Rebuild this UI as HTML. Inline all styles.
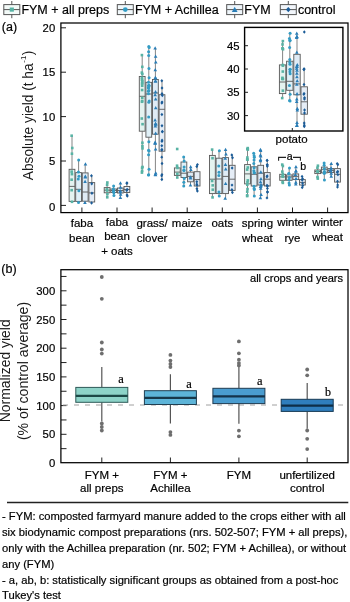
<!DOCTYPE html><html><head><meta charset="utf-8"><style>html,body{margin:0;padding:0;background:#fff;width:350px;height:602px;overflow:hidden}#wrap{position:absolute;left:0;top:0;width:350px;height:602px;will-change:transform}svg{position:absolute;left:0;top:0}</style></head><body><div id="wrap">
<svg width="350" height="602" viewBox="0 0 350 602">
<line x1="11.80" y1="1" x2="11.80" y2="18.2" stroke="#555" stroke-width="1"/>
<rect x="3.80" y="4.6" width="16.00" height="10" fill="#f3faf8" stroke="#555" stroke-width="1"/>
<line x1="3.80" y1="9.6" x2="19.80" y2="9.6" stroke="#555" stroke-width="1"/>
<rect x="9.72" y="7.52" width="4.16" height="4.16" fill="#58b3a4"/>
<text x="21.400000000000002" y="14.2" font-family='"Liberation Sans", sans-serif' font-size="12.5" text-anchor="start" fill="#000" stroke="#000" stroke-width="0.2" >FYM + all preps</text>
<line x1="125.30" y1="1" x2="125.30" y2="18.2" stroke="#555" stroke-width="1"/>
<rect x="117.30" y="4.6" width="16.00" height="10" fill="#f1f8fb" stroke="#555" stroke-width="1"/>
<line x1="117.30" y1="9.6" x2="133.30" y2="9.6" stroke="#555" stroke-width="1"/>
<circle cx="125.30" cy="9.60" r="2.40" fill="#339cc4"/>
<text x="134.9" y="14.2" font-family='"Liberation Sans", sans-serif' font-size="12.5" text-anchor="start" fill="#000" stroke="#000" stroke-width="0.2" >FYM + Achillea</text>
<line x1="234.70" y1="1" x2="234.70" y2="18.2" stroke="#555" stroke-width="1"/>
<rect x="226.70" y="4.6" width="16.00" height="10" fill="#eff6fb" stroke="#555" stroke-width="1"/>
<line x1="226.70" y1="9.6" x2="242.70" y2="9.6" stroke="#555" stroke-width="1"/>
<path d="M234.70 6.72 L237.58 11.90 L231.82 11.90Z" fill="#2a7db6"/>
<text x="244.29999999999998" y="14.2" font-family='"Liberation Sans", sans-serif' font-size="12.5" text-anchor="start" fill="#000" stroke="#000" stroke-width="0.2" >FYM</text>
<line x1="288.30" y1="1" x2="288.30" y2="18.2" stroke="#555" stroke-width="1"/>
<rect x="280.30" y="4.6" width="16.00" height="10" fill="#f2f6fb" stroke="#555" stroke-width="1"/>
<line x1="280.30" y1="9.6" x2="296.30" y2="9.6" stroke="#555" stroke-width="1"/>
<path d="M288.30 6.88 L290.61 9.60 L288.30 12.32 L285.99 9.60Z" fill="#1b5c98"/>
<text x="297.90000000000003" y="14.2" font-family='"Liberation Sans", sans-serif' font-size="12.5" text-anchor="start" fill="#000" stroke="#000" stroke-width="0.2" >control</text>
<text x="1.8" y="30.6" font-family='"Liberation Sans", sans-serif' font-size="12.5" text-anchor="start" fill="#000" stroke="#000" stroke-width="0.2" >(a)</text>
<line x1="61" y1="205.40" x2="66" y2="205.40" stroke="#222" stroke-width="1"/>
<text x="55.2" y="210.9" font-family='"Liberation Sans", sans-serif' font-size="11.3" text-anchor="end" fill="#000" stroke="#000" stroke-width="0.2" >0</text>
<line x1="61" y1="161.00" x2="66" y2="161.00" stroke="#222" stroke-width="1"/>
<text x="55.2" y="165.0" font-family='"Liberation Sans", sans-serif' font-size="11.3" text-anchor="end" fill="#000" stroke="#000" stroke-width="0.2" >5</text>
<line x1="61" y1="116.60" x2="66" y2="116.60" stroke="#222" stroke-width="1"/>
<text x="55.2" y="120.6" font-family='"Liberation Sans", sans-serif' font-size="11.3" text-anchor="end" fill="#000" stroke="#000" stroke-width="0.2" >10</text>
<line x1="61" y1="72.20" x2="66" y2="72.20" stroke="#222" stroke-width="1"/>
<text x="55.2" y="76.19999999999999" font-family='"Liberation Sans", sans-serif' font-size="11.3" text-anchor="end" fill="#000" stroke="#000" stroke-width="0.2" >15</text>
<line x1="61" y1="27.80" x2="66" y2="27.80" stroke="#222" stroke-width="1"/>
<text x="55.2" y="31.799999999999983" font-family='"Liberation Sans", sans-serif' font-size="11.3" text-anchor="end" fill="#000" stroke="#000" stroke-width="0.2" >20</text>
<line x1="81.90" y1="207.5" x2="81.90" y2="212" stroke="#222" stroke-width="1"/>
<line x1="117.00" y1="207.5" x2="117.00" y2="212" stroke="#222" stroke-width="1"/>
<line x1="152.10" y1="207.5" x2="152.10" y2="212" stroke="#222" stroke-width="1"/>
<line x1="187.20" y1="207.5" x2="187.20" y2="212" stroke="#222" stroke-width="1"/>
<line x1="222.30" y1="207.5" x2="222.30" y2="212" stroke="#222" stroke-width="1"/>
<line x1="257.40" y1="207.5" x2="257.40" y2="212" stroke="#222" stroke-width="1"/>
<line x1="292.50" y1="207.5" x2="292.50" y2="212" stroke="#222" stroke-width="1"/>
<line x1="327.60" y1="207.5" x2="327.60" y2="212" stroke="#222" stroke-width="1"/>
<line x1="72.00" y1="135.70" x2="72.00" y2="169.30" stroke="#858585" stroke-width="1"/>
<line x1="72.00" y1="201.40" x2="72.00" y2="201.80" stroke="#858585" stroke-width="1"/>
<rect x="69.10" y="169.30" width="5.80" height="32.10" fill="#e4f3f0" stroke="#585858" stroke-width="0.9"/>
<line x1="69.10" y1="186.40" x2="74.90" y2="186.40" stroke="#585858" stroke-width="0.9"/>
<line x1="78.60" y1="160.00" x2="78.60" y2="172.60" stroke="#858585" stroke-width="1"/>
<line x1="78.60" y1="201.40" x2="78.60" y2="202.50" stroke="#858585" stroke-width="1"/>
<rect x="75.70" y="172.60" width="5.80" height="28.80" fill="#e0f0f7" stroke="#585858" stroke-width="0.9"/>
<line x1="75.70" y1="189.30" x2="81.50" y2="189.30" stroke="#585858" stroke-width="0.9"/>
<line x1="85.20" y1="164.00" x2="85.20" y2="172.90" stroke="#858585" stroke-width="1"/>
<line x1="85.20" y1="201.20" x2="85.20" y2="202.50" stroke="#858585" stroke-width="1"/>
<rect x="82.30" y="172.90" width="5.80" height="28.30" fill="#dfebf5" stroke="#585858" stroke-width="0.9"/>
<line x1="82.30" y1="192.00" x2="88.10" y2="192.00" stroke="#585858" stroke-width="0.9"/>
<line x1="91.80" y1="175.70" x2="91.80" y2="182.60" stroke="#858585" stroke-width="1"/>
<line x1="91.80" y1="202.00" x2="91.80" y2="203.00" stroke="#858585" stroke-width="1"/>
<rect x="88.90" y="182.60" width="5.80" height="19.40" fill="#e5edf6" stroke="#585858" stroke-width="0.9"/>
<line x1="88.90" y1="192.90" x2="94.70" y2="192.90" stroke="#585858" stroke-width="0.9"/>
<rect x="70.35" y="134.40" width="2.60" height="2.60" fill="#58b3a4"/>
<rect x="70.71" y="200.50" width="2.60" height="2.60" fill="#58b3a4"/>
<rect x="70.33" y="178.40" width="2.60" height="2.60" fill="#58b3a4"/>
<rect x="70.65" y="172.84" width="2.60" height="2.60" fill="#58b3a4"/>
<rect x="70.36" y="188.89" width="2.60" height="2.60" fill="#58b3a4"/>
<rect x="70.37" y="170.33" width="2.60" height="2.60" fill="#58b3a4"/>
<rect x="70.64" y="152.41" width="2.60" height="2.60" fill="#58b3a4"/>
<rect x="70.96" y="146.69" width="2.60" height="2.60" fill="#58b3a4"/>
<circle cx="78.66" cy="160.00" r="1.50" fill="#339cc4"/>
<circle cx="78.52" cy="202.50" r="1.50" fill="#339cc4"/>
<circle cx="78.98" cy="176.17" r="1.50" fill="#339cc4"/>
<circle cx="78.24" cy="179.03" r="1.50" fill="#339cc4"/>
<circle cx="78.89" cy="190.67" r="1.50" fill="#339cc4"/>
<circle cx="78.43" cy="171.94" r="1.50" fill="#339cc4"/>
<path d="M85.45 162.20 L87.25 165.44 L83.65 165.44Z" fill="#2a7db6"/>
<path d="M84.94 200.70 L86.74 203.94 L83.14 203.94Z" fill="#2a7db6"/>
<path d="M85.27 175.18 L87.07 178.42 L83.47 178.42Z" fill="#2a7db6"/>
<path d="M85.31 174.43 L87.11 177.67 L83.51 177.67Z" fill="#2a7db6"/>
<path d="M85.10 179.83 L86.90 183.07 L83.30 183.07Z" fill="#2a7db6"/>
<path d="M91.45 174.00 L92.89 175.70 L91.45 177.40 L90.00 175.70Z" fill="#1b5c98"/>
<path d="M91.56 201.30 L93.01 203.00 L91.56 204.70 L90.12 203.00Z" fill="#1b5c98"/>
<path d="M91.94 191.53 L93.39 193.23 L91.94 194.93 L90.50 193.23Z" fill="#1b5c98"/>
<path d="M91.74 182.12 L93.19 183.82 L91.74 185.52 L90.30 183.82Z" fill="#1b5c98"/>
<line x1="107.10" y1="182.50" x2="107.10" y2="187.60" stroke="#858585" stroke-width="1"/>
<line x1="107.10" y1="192.80" x2="107.10" y2="197.30" stroke="#858585" stroke-width="1"/>
<rect x="104.20" y="187.60" width="5.80" height="5.20" fill="#e4f3f0" stroke="#585858" stroke-width="0.9"/>
<line x1="104.20" y1="190.20" x2="110.00" y2="190.20" stroke="#585858" stroke-width="0.9"/>
<line x1="113.70" y1="186.00" x2="113.70" y2="189.00" stroke="#858585" stroke-width="1"/>
<line x1="113.70" y1="192.50" x2="113.70" y2="195.50" stroke="#858585" stroke-width="1"/>
<rect x="110.80" y="189.00" width="5.80" height="3.50" fill="#e0f0f7" stroke="#585858" stroke-width="0.9"/>
<line x1="110.80" y1="190.50" x2="116.60" y2="190.50" stroke="#585858" stroke-width="0.9"/>
<line x1="120.30" y1="183.00" x2="120.30" y2="188.00" stroke="#858585" stroke-width="1"/>
<line x1="120.30" y1="193.00" x2="120.30" y2="197.50" stroke="#858585" stroke-width="1"/>
<rect x="117.40" y="188.00" width="5.80" height="5.00" fill="#dfebf5" stroke="#585858" stroke-width="0.9"/>
<line x1="117.40" y1="190.50" x2="123.20" y2="190.50" stroke="#585858" stroke-width="0.9"/>
<line x1="126.90" y1="183.00" x2="126.90" y2="186.50" stroke="#858585" stroke-width="1"/>
<line x1="126.90" y1="192.50" x2="126.90" y2="196.00" stroke="#858585" stroke-width="1"/>
<rect x="124.00" y="186.50" width="5.80" height="6.00" fill="#e5edf6" stroke="#585858" stroke-width="0.9"/>
<line x1="124.00" y1="189.50" x2="129.80" y2="189.50" stroke="#585858" stroke-width="0.9"/>
<rect x="106.04" y="181.20" width="2.60" height="2.60" fill="#58b3a4"/>
<rect x="105.96" y="196.00" width="2.60" height="2.60" fill="#58b3a4"/>
<rect x="105.60" y="187.93" width="2.60" height="2.60" fill="#58b3a4"/>
<rect x="105.86" y="189.34" width="2.60" height="2.60" fill="#58b3a4"/>
<rect x="105.82" y="183.51" width="2.60" height="2.60" fill="#58b3a4"/>
<rect x="106.10" y="192.85" width="2.60" height="2.60" fill="#58b3a4"/>
<circle cx="113.63" cy="186.00" r="1.50" fill="#339cc4"/>
<circle cx="113.91" cy="195.50" r="1.50" fill="#339cc4"/>
<circle cx="113.42" cy="191.55" r="1.50" fill="#339cc4"/>
<circle cx="113.69" cy="190.01" r="1.50" fill="#339cc4"/>
<circle cx="113.33" cy="188.94" r="1.50" fill="#339cc4"/>
<circle cx="113.83" cy="192.85" r="1.50" fill="#339cc4"/>
<path d="M120.46 181.20 L122.26 184.44 L118.66 184.44Z" fill="#2a7db6"/>
<path d="M120.38 195.70 L122.18 198.94 L118.58 198.94Z" fill="#2a7db6"/>
<path d="M120.36 190.02 L122.16 193.26 L118.56 193.26Z" fill="#2a7db6"/>
<path d="M120.26 189.07 L122.06 192.31 L118.46 192.31Z" fill="#2a7db6"/>
<path d="M120.57 185.58 L122.37 188.82 L118.77 188.82Z" fill="#2a7db6"/>
<path d="M120.66 192.61 L122.46 195.85 L118.86 195.85Z" fill="#2a7db6"/>
<path d="M127.02 181.30 L128.46 183.00 L127.02 184.70 L125.57 183.00Z" fill="#1b5c98"/>
<path d="M127.29 194.30 L128.74 196.00 L127.29 197.70 L125.85 196.00Z" fill="#1b5c98"/>
<path d="M127.16 187.64 L128.60 189.34 L127.16 191.04 L125.71 189.34Z" fill="#1b5c98"/>
<path d="M126.73 188.78 L128.17 190.48 L126.73 192.18 L125.28 190.48Z" fill="#1b5c98"/>
<path d="M126.81 181.51 L128.25 183.21 L126.81 184.91 L125.36 183.21Z" fill="#1b5c98"/>
<path d="M127.03 193.26 L128.48 194.96 L127.03 196.66 L125.59 194.96Z" fill="#1b5c98"/>
<line x1="142.20" y1="55.10" x2="142.20" y2="76.50" stroke="#858585" stroke-width="1"/>
<line x1="142.20" y1="131.20" x2="142.20" y2="172.60" stroke="#858585" stroke-width="1"/>
<rect x="139.30" y="76.50" width="5.80" height="54.70" fill="#e4f3f0" stroke="#585858" stroke-width="0.9"/>
<line x1="139.30" y1="96.30" x2="145.10" y2="96.30" stroke="#585858" stroke-width="0.9"/>
<line x1="148.80" y1="46.50" x2="148.80" y2="82.30" stroke="#858585" stroke-width="1"/>
<line x1="148.80" y1="137.20" x2="148.80" y2="174.90" stroke="#858585" stroke-width="1"/>
<rect x="145.90" y="82.30" width="5.80" height="54.90" fill="#e0f0f7" stroke="#585858" stroke-width="0.9"/>
<line x1="145.90" y1="94.00" x2="151.70" y2="94.00" stroke="#585858" stroke-width="0.9"/>
<line x1="155.40" y1="48.10" x2="155.40" y2="79.50" stroke="#858585" stroke-width="1"/>
<line x1="155.40" y1="134.20" x2="155.40" y2="174.90" stroke="#858585" stroke-width="1"/>
<rect x="152.50" y="79.50" width="5.80" height="54.70" fill="#dfebf5" stroke="#585858" stroke-width="0.9"/>
<line x1="152.50" y1="93.00" x2="158.30" y2="93.00" stroke="#585858" stroke-width="0.9"/>
<line x1="162.00" y1="80.70" x2="162.00" y2="94.70" stroke="#858585" stroke-width="1"/>
<line x1="162.00" y1="151.20" x2="162.00" y2="179.50" stroke="#858585" stroke-width="1"/>
<rect x="159.10" y="94.70" width="5.80" height="56.50" fill="#e5edf6" stroke="#585858" stroke-width="0.9"/>
<line x1="159.10" y1="109.30" x2="164.90" y2="109.30" stroke="#585858" stroke-width="0.9"/>
<rect x="140.62" y="53.80" width="2.60" height="2.60" fill="#58b3a4"/>
<rect x="140.64" y="171.30" width="2.60" height="2.60" fill="#58b3a4"/>
<rect x="140.69" y="76.43" width="2.60" height="2.60" fill="#58b3a4"/>
<rect x="140.69" y="100.45" width="2.60" height="2.60" fill="#58b3a4"/>
<rect x="140.89" y="84.39" width="2.60" height="2.60" fill="#58b3a4"/>
<rect x="140.97" y="81.61" width="2.60" height="2.60" fill="#58b3a4"/>
<rect x="140.71" y="78.42" width="2.60" height="2.60" fill="#58b3a4"/>
<rect x="140.50" y="117.22" width="2.60" height="2.60" fill="#58b3a4"/>
<rect x="140.84" y="82.27" width="2.60" height="2.60" fill="#58b3a4"/>
<rect x="140.80" y="88.74" width="2.60" height="2.60" fill="#58b3a4"/>
<rect x="140.95" y="96.58" width="2.60" height="2.60" fill="#58b3a4"/>
<rect x="141.26" y="122.87" width="2.60" height="2.60" fill="#58b3a4"/>
<rect x="141.05" y="79.61" width="2.60" height="2.60" fill="#58b3a4"/>
<rect x="140.91" y="99.77" width="2.60" height="2.60" fill="#58b3a4"/>
<rect x="140.99" y="65.56" width="2.60" height="2.60" fill="#58b3a4"/>
<rect x="141.04" y="72.70" width="2.60" height="2.60" fill="#58b3a4"/>
<rect x="140.54" y="71.33" width="2.60" height="2.60" fill="#58b3a4"/>
<rect x="141.22" y="165.67" width="2.60" height="2.60" fill="#58b3a4"/>
<rect x="141.12" y="141.43" width="2.60" height="2.60" fill="#58b3a4"/>
<rect x="141.20" y="147.09" width="2.60" height="2.60" fill="#58b3a4"/>
<rect x="141.14" y="144.75" width="2.60" height="2.60" fill="#58b3a4"/>
<rect x="140.81" y="166.51" width="2.60" height="2.60" fill="#58b3a4"/>
<rect x="140.82" y="169.55" width="2.60" height="2.60" fill="#58b3a4"/>
<circle cx="148.79" cy="46.50" r="1.50" fill="#339cc4"/>
<circle cx="148.47" cy="174.90" r="1.50" fill="#339cc4"/>
<circle cx="148.48" cy="87.98" r="1.50" fill="#339cc4"/>
<circle cx="148.67" cy="117.12" r="1.50" fill="#339cc4"/>
<circle cx="148.61" cy="85.72" r="1.50" fill="#339cc4"/>
<circle cx="149.06" cy="86.00" r="1.50" fill="#339cc4"/>
<circle cx="148.53" cy="93.76" r="1.50" fill="#339cc4"/>
<circle cx="148.42" cy="91.21" r="1.50" fill="#339cc4"/>
<circle cx="149.16" cy="100.97" r="1.50" fill="#339cc4"/>
<circle cx="148.82" cy="85.19" r="1.50" fill="#339cc4"/>
<circle cx="148.52" cy="82.31" r="1.50" fill="#339cc4"/>
<circle cx="148.83" cy="90.60" r="1.50" fill="#339cc4"/>
<circle cx="148.42" cy="87.87" r="1.50" fill="#339cc4"/>
<circle cx="148.82" cy="102.26" r="1.50" fill="#339cc4"/>
<circle cx="149.18" cy="47.41" r="1.50" fill="#339cc4"/>
<circle cx="149.09" cy="77.80" r="1.50" fill="#339cc4"/>
<circle cx="148.96" cy="68.48" r="1.50" fill="#339cc4"/>
<circle cx="148.61" cy="51.82" r="1.50" fill="#339cc4"/>
<circle cx="148.69" cy="55.53" r="1.50" fill="#339cc4"/>
<circle cx="148.53" cy="150.30" r="1.50" fill="#339cc4"/>
<circle cx="149.02" cy="150.93" r="1.50" fill="#339cc4"/>
<circle cx="148.83" cy="141.83" r="1.50" fill="#339cc4"/>
<circle cx="149.02" cy="169.20" r="1.50" fill="#339cc4"/>
<circle cx="148.66" cy="174.64" r="1.50" fill="#339cc4"/>
<circle cx="148.58" cy="154.77" r="1.50" fill="#339cc4"/>
<path d="M155.16 46.30 L156.96 49.54 L153.36 49.54Z" fill="#2a7db6"/>
<path d="M155.50 173.10 L157.30 176.34 L153.70 176.34Z" fill="#2a7db6"/>
<path d="M155.72 122.09 L157.52 125.33 L153.92 125.33Z" fill="#2a7db6"/>
<path d="M155.67 131.58 L157.47 134.82 L153.87 134.82Z" fill="#2a7db6"/>
<path d="M155.38 124.34 L157.18 127.58 L153.58 127.58Z" fill="#2a7db6"/>
<path d="M155.52 121.79 L157.32 125.03 L153.72 125.03Z" fill="#2a7db6"/>
<path d="M155.64 122.46 L157.44 125.70 L153.84 125.70Z" fill="#2a7db6"/>
<path d="M155.07 118.17 L156.87 121.41 L153.27 121.41Z" fill="#2a7db6"/>
<path d="M155.53 90.10 L157.33 93.34 L153.73 93.34Z" fill="#2a7db6"/>
<path d="M155.73 106.01 L157.53 109.25 L153.93 109.25Z" fill="#2a7db6"/>
<path d="M155.63 97.15 L157.43 100.39 L153.83 100.39Z" fill="#2a7db6"/>
<path d="M155.60 79.29 L157.40 82.53 L153.80 82.53Z" fill="#2a7db6"/>
<path d="M155.38 79.23 L157.18 82.47 L153.58 82.47Z" fill="#2a7db6"/>
<path d="M155.14 92.98 L156.94 96.22 L153.34 96.22Z" fill="#2a7db6"/>
<path d="M155.63 54.44 L157.43 57.68 L153.83 57.68Z" fill="#2a7db6"/>
<path d="M155.27 68.05 L157.07 71.29 L153.47 71.29Z" fill="#2a7db6"/>
<path d="M155.64 76.33 L157.44 79.57 L153.84 79.57Z" fill="#2a7db6"/>
<path d="M155.78 60.34 L157.58 63.58 L153.98 63.58Z" fill="#2a7db6"/>
<path d="M155.32 75.72 L157.12 78.96 L153.52 78.96Z" fill="#2a7db6"/>
<path d="M155.32 172.61 L157.12 175.85 L153.52 175.85Z" fill="#2a7db6"/>
<path d="M155.76 171.27 L157.56 174.51 L153.96 174.51Z" fill="#2a7db6"/>
<path d="M155.58 147.24 L157.38 150.48 L153.78 150.48Z" fill="#2a7db6"/>
<path d="M155.14 141.37 L156.94 144.61 L153.34 144.61Z" fill="#2a7db6"/>
<path d="M155.10 141.63 L156.90 144.87 L153.30 144.87Z" fill="#2a7db6"/>
<path d="M155.12 140.41 L156.92 143.65 L153.32 143.65Z" fill="#2a7db6"/>
<path d="M161.80 79.00 L163.25 80.70 L161.80 82.40 L160.36 80.70Z" fill="#1b5c98"/>
<path d="M161.83 177.80 L163.28 179.50 L161.83 181.20 L160.39 179.50Z" fill="#1b5c98"/>
<path d="M161.79 144.12 L163.24 145.82 L161.79 147.52 L160.35 145.82Z" fill="#1b5c98"/>
<path d="M162.07 138.57 L163.51 140.27 L162.07 141.97 L160.62 140.27Z" fill="#1b5c98"/>
<path d="M161.81 101.26 L163.25 102.96 L161.81 104.66 L160.36 102.96Z" fill="#1b5c98"/>
<path d="M161.94 139.70 L163.38 141.40 L161.94 143.10 L160.49 141.40Z" fill="#1b5c98"/>
<path d="M161.70 148.39 L163.15 150.09 L161.70 151.79 L160.26 150.09Z" fill="#1b5c98"/>
<path d="M162.33 130.14 L163.77 131.84 L162.33 133.54 L160.88 131.84Z" fill="#1b5c98"/>
<path d="M161.88 112.80 L163.33 114.50 L161.88 116.20 L160.44 114.50Z" fill="#1b5c98"/>
<path d="M161.97 124.00 L163.41 125.70 L161.97 127.40 L160.52 125.70Z" fill="#1b5c98"/>
<path d="M162.07 100.40 L163.51 102.10 L162.07 103.80 L160.62 102.10Z" fill="#1b5c98"/>
<path d="M162.32 93.80 L163.77 95.50 L162.32 97.20 L160.88 95.50Z" fill="#1b5c98"/>
<path d="M161.94 147.86 L163.38 149.56 L161.94 151.26 L160.49 149.56Z" fill="#1b5c98"/>
<path d="M162.33 129.71 L163.78 131.41 L162.33 133.11 L160.89 131.41Z" fill="#1b5c98"/>
<path d="M162.00 86.37 L163.45 88.07 L162.00 89.77 L160.56 88.07Z" fill="#1b5c98"/>
<path d="M162.03 92.07 L163.47 93.77 L162.03 95.47 L160.58 93.77Z" fill="#1b5c98"/>
<path d="M162.02 161.78 L163.46 163.48 L162.02 165.18 L160.57 163.48Z" fill="#1b5c98"/>
<path d="M161.61 174.17 L163.06 175.87 L161.61 177.57 L160.17 175.87Z" fill="#1b5c98"/>
<path d="M161.95 172.88 L163.40 174.58 L161.95 176.28 L160.51 174.58Z" fill="#1b5c98"/>
<path d="M161.75 155.47 L163.19 157.17 L161.75 158.87 L160.30 157.17Z" fill="#1b5c98"/>
<line x1="177.30" y1="165.70" x2="177.30" y2="167.90" stroke="#858585" stroke-width="1"/>
<line x1="177.30" y1="175.40" x2="177.30" y2="177.50" stroke="#858585" stroke-width="1"/>
<rect x="174.40" y="167.90" width="5.80" height="7.50" fill="#e4f3f0" stroke="#585858" stroke-width="0.9"/>
<line x1="174.40" y1="172.10" x2="180.20" y2="172.10" stroke="#585858" stroke-width="0.9"/>
<line x1="183.90" y1="157.00" x2="183.90" y2="162.00" stroke="#858585" stroke-width="1"/>
<line x1="183.90" y1="177.50" x2="183.90" y2="186.00" stroke="#858585" stroke-width="1"/>
<rect x="181.00" y="162.00" width="5.80" height="15.50" fill="#e0f0f7" stroke="#585858" stroke-width="0.9"/>
<line x1="181.00" y1="173.20" x2="186.80" y2="173.20" stroke="#585858" stroke-width="0.9"/>
<line x1="190.50" y1="166.80" x2="190.50" y2="172.10" stroke="#858585" stroke-width="1"/>
<line x1="190.50" y1="181.80" x2="190.50" y2="185.00" stroke="#858585" stroke-width="1"/>
<rect x="187.60" y="172.10" width="5.80" height="9.70" fill="#dfebf5" stroke="#585858" stroke-width="0.9"/>
<line x1="187.60" y1="176.40" x2="193.40" y2="176.40" stroke="#585858" stroke-width="0.9"/>
<line x1="197.10" y1="164.60" x2="197.10" y2="171.70" stroke="#858585" stroke-width="1"/>
<line x1="197.10" y1="186.00" x2="197.10" y2="191.00" stroke="#858585" stroke-width="1"/>
<rect x="194.20" y="171.70" width="5.80" height="14.30" fill="#e5edf6" stroke="#585858" stroke-width="0.9"/>
<line x1="194.20" y1="179.60" x2="200.00" y2="179.60" stroke="#585858" stroke-width="0.9"/>
<rect x="175.74" y="164.40" width="2.60" height="2.60" fill="#58b3a4"/>
<rect x="175.98" y="176.20" width="2.60" height="2.60" fill="#58b3a4"/>
<rect x="176.18" y="166.63" width="2.60" height="2.60" fill="#58b3a4"/>
<rect x="176.05" y="172.59" width="2.60" height="2.60" fill="#58b3a4"/>
<circle cx="183.70" cy="157.00" r="1.50" fill="#339cc4"/>
<circle cx="183.72" cy="186.00" r="1.50" fill="#339cc4"/>
<circle cx="184.12" cy="167.05" r="1.50" fill="#339cc4"/>
<circle cx="183.91" cy="170.03" r="1.50" fill="#339cc4"/>
<circle cx="183.95" cy="170.61" r="1.50" fill="#339cc4"/>
<circle cx="184.11" cy="160.92" r="1.50" fill="#339cc4"/>
<circle cx="184.23" cy="178.40" r="1.50" fill="#339cc4"/>
<circle cx="183.85" cy="182.26" r="1.50" fill="#339cc4"/>
<path d="M190.65 165.00 L192.45 168.24 L188.85 168.24Z" fill="#2a7db6"/>
<path d="M190.46 183.20 L192.26 186.44 L188.66 186.44Z" fill="#2a7db6"/>
<path d="M190.53 176.24 L192.33 179.48 L188.73 179.48Z" fill="#2a7db6"/>
<path d="M190.48 175.20 L192.28 178.44 L188.68 178.44Z" fill="#2a7db6"/>
<path d="M190.85 167.71 L192.65 170.95 L189.05 170.95Z" fill="#2a7db6"/>
<path d="M197.45 162.90 L198.90 164.60 L197.45 166.30 L196.01 164.60Z" fill="#1b5c98"/>
<path d="M197.37 189.30 L198.82 191.00 L197.37 192.70 L195.93 191.00Z" fill="#1b5c98"/>
<path d="M196.81 180.00 L198.25 181.70 L196.81 183.40 L195.36 181.70Z" fill="#1b5c98"/>
<path d="M196.80 182.53 L198.24 184.23 L196.80 185.93 L195.35 184.23Z" fill="#1b5c98"/>
<path d="M197.05 183.47 L198.50 185.17 L197.05 186.87 L195.61 185.17Z" fill="#1b5c98"/>
<path d="M196.76 164.74 L198.20 166.44 L196.76 168.14 L195.31 166.44Z" fill="#1b5c98"/>
<path d="M196.89 187.10 L198.34 188.80 L196.89 190.50 L195.45 188.80Z" fill="#1b5c98"/>
<line x1="212.40" y1="149.60" x2="212.40" y2="155.40" stroke="#858585" stroke-width="1"/>
<line x1="212.40" y1="193.60" x2="212.40" y2="197.40" stroke="#858585" stroke-width="1"/>
<rect x="209.50" y="155.40" width="5.80" height="38.20" fill="#e4f3f0" stroke="#585858" stroke-width="0.9"/>
<line x1="209.50" y1="179.20" x2="215.30" y2="179.20" stroke="#585858" stroke-width="0.9"/>
<line x1="219.00" y1="150.70" x2="219.00" y2="158.20" stroke="#858585" stroke-width="1"/>
<line x1="219.00" y1="193.60" x2="219.00" y2="196.00" stroke="#858585" stroke-width="1"/>
<rect x="216.10" y="158.20" width="5.80" height="35.40" fill="#e0f0f7" stroke="#585858" stroke-width="0.9"/>
<line x1="216.10" y1="179.00" x2="221.90" y2="179.00" stroke="#585858" stroke-width="0.9"/>
<line x1="225.60" y1="149.60" x2="225.60" y2="157.60" stroke="#858585" stroke-width="1"/>
<line x1="225.60" y1="193.60" x2="225.60" y2="198.30" stroke="#858585" stroke-width="1"/>
<rect x="222.70" y="157.60" width="5.80" height="36.00" fill="#dfebf5" stroke="#585858" stroke-width="0.9"/>
<line x1="222.70" y1="176.40" x2="228.50" y2="176.40" stroke="#585858" stroke-width="0.9"/>
<line x1="232.20" y1="155.00" x2="232.20" y2="165.30" stroke="#858585" stroke-width="1"/>
<line x1="232.20" y1="190.40" x2="232.20" y2="192.50" stroke="#858585" stroke-width="1"/>
<rect x="229.30" y="165.30" width="5.80" height="25.10" fill="#e5edf6" stroke="#585858" stroke-width="0.9"/>
<line x1="229.30" y1="179.20" x2="235.10" y2="179.20" stroke="#585858" stroke-width="0.9"/>
<rect x="210.82" y="148.30" width="2.60" height="2.60" fill="#58b3a4"/>
<rect x="211.27" y="196.10" width="2.60" height="2.60" fill="#58b3a4"/>
<rect x="211.23" y="156.89" width="2.60" height="2.60" fill="#58b3a4"/>
<rect x="210.81" y="179.67" width="2.60" height="2.60" fill="#58b3a4"/>
<rect x="211.41" y="184.05" width="2.60" height="2.60" fill="#58b3a4"/>
<rect x="211.47" y="188.37" width="2.60" height="2.60" fill="#58b3a4"/>
<circle cx="219.39" cy="150.70" r="1.50" fill="#339cc4"/>
<circle cx="219.27" cy="196.00" r="1.50" fill="#339cc4"/>
<circle cx="218.73" cy="165.97" r="1.50" fill="#339cc4"/>
<circle cx="218.95" cy="191.92" r="1.50" fill="#339cc4"/>
<circle cx="219.01" cy="172.30" r="1.50" fill="#339cc4"/>
<circle cx="218.87" cy="175.45" r="1.50" fill="#339cc4"/>
<path d="M225.55 147.80 L227.35 151.04 L223.75 151.04Z" fill="#2a7db6"/>
<path d="M225.21 196.50 L227.01 199.74 L223.41 199.74Z" fill="#2a7db6"/>
<path d="M225.47 162.85 L227.27 166.09 L223.67 166.09Z" fill="#2a7db6"/>
<path d="M225.70 167.27 L227.50 170.51 L223.90 170.51Z" fill="#2a7db6"/>
<path d="M225.61 181.80 L227.41 185.04 L223.81 185.04Z" fill="#2a7db6"/>
<path d="M225.25 156.50 L227.05 159.74 L223.45 159.74Z" fill="#2a7db6"/>
<path d="M225.99 152.23 L227.79 155.47 L224.19 155.47Z" fill="#2a7db6"/>
<path d="M231.83 153.30 L233.28 155.00 L231.83 156.70 L230.39 155.00Z" fill="#1b5c98"/>
<path d="M232.42 190.80 L233.87 192.50 L232.42 194.20 L230.98 192.50Z" fill="#1b5c98"/>
<path d="M232.02 183.39 L233.46 185.09 L232.02 186.79 L230.57 185.09Z" fill="#1b5c98"/>
<path d="M231.90 187.99 L233.35 189.69 L231.90 191.39 L230.46 189.69Z" fill="#1b5c98"/>
<path d="M232.14 166.23 L233.58 167.93 L232.14 169.63 L230.69 167.93Z" fill="#1b5c98"/>
<path d="M232.53 156.04 L233.97 157.74 L232.53 159.44 L231.08 157.74Z" fill="#1b5c98"/>
<line x1="247.50" y1="148.10" x2="247.50" y2="164.60" stroke="#858585" stroke-width="1"/>
<line x1="247.50" y1="183.90" x2="247.50" y2="196.10" stroke="#858585" stroke-width="1"/>
<rect x="244.60" y="164.60" width="5.80" height="19.30" fill="#e4f3f0" stroke="#585858" stroke-width="0.9"/>
<line x1="244.60" y1="173.90" x2="250.40" y2="173.90" stroke="#585858" stroke-width="0.9"/>
<line x1="254.10" y1="153.30" x2="254.10" y2="166.80" stroke="#858585" stroke-width="1"/>
<line x1="254.10" y1="186.00" x2="254.10" y2="196.10" stroke="#858585" stroke-width="1"/>
<rect x="251.20" y="166.80" width="5.80" height="19.20" fill="#e0f0f7" stroke="#585858" stroke-width="0.9"/>
<line x1="251.20" y1="174.30" x2="257.00" y2="174.30" stroke="#585858" stroke-width="0.9"/>
<line x1="260.70" y1="149.60" x2="260.70" y2="165.30" stroke="#858585" stroke-width="1"/>
<line x1="260.70" y1="185.00" x2="260.70" y2="197.90" stroke="#858585" stroke-width="1"/>
<rect x="257.80" y="165.30" width="5.80" height="19.70" fill="#dfebf5" stroke="#585858" stroke-width="0.9"/>
<line x1="257.80" y1="173.20" x2="263.60" y2="173.20" stroke="#585858" stroke-width="0.9"/>
<line x1="267.30" y1="160.40" x2="267.30" y2="172.60" stroke="#858585" stroke-width="1"/>
<line x1="267.30" y1="186.00" x2="267.30" y2="197.90" stroke="#858585" stroke-width="1"/>
<rect x="264.40" y="172.60" width="5.80" height="13.40" fill="#e5edf6" stroke="#585858" stroke-width="0.9"/>
<line x1="264.40" y1="179.20" x2="270.20" y2="179.20" stroke="#585858" stroke-width="0.9"/>
<rect x="246.44" y="146.80" width="2.60" height="2.60" fill="#58b3a4"/>
<rect x="245.87" y="194.80" width="2.60" height="2.60" fill="#58b3a4"/>
<rect x="246.48" y="179.11" width="2.60" height="2.60" fill="#58b3a4"/>
<rect x="245.85" y="168.29" width="2.60" height="2.60" fill="#58b3a4"/>
<rect x="246.49" y="166.18" width="2.60" height="2.60" fill="#58b3a4"/>
<rect x="246.16" y="181.04" width="2.60" height="2.60" fill="#58b3a4"/>
<rect x="246.07" y="156.21" width="2.60" height="2.60" fill="#58b3a4"/>
<rect x="246.24" y="158.36" width="2.60" height="2.60" fill="#58b3a4"/>
<rect x="246.54" y="148.28" width="2.60" height="2.60" fill="#58b3a4"/>
<rect x="246.01" y="147.75" width="2.60" height="2.60" fill="#58b3a4"/>
<rect x="245.90" y="158.16" width="2.60" height="2.60" fill="#58b3a4"/>
<rect x="246.22" y="187.79" width="2.60" height="2.60" fill="#58b3a4"/>
<rect x="245.99" y="183.48" width="2.60" height="2.60" fill="#58b3a4"/>
<rect x="245.89" y="194.05" width="2.60" height="2.60" fill="#58b3a4"/>
<rect x="245.93" y="190.34" width="2.60" height="2.60" fill="#58b3a4"/>
<circle cx="253.71" cy="153.30" r="1.50" fill="#339cc4"/>
<circle cx="254.29" cy="196.10" r="1.50" fill="#339cc4"/>
<circle cx="254.14" cy="167.77" r="1.50" fill="#339cc4"/>
<circle cx="253.85" cy="170.67" r="1.50" fill="#339cc4"/>
<circle cx="254.08" cy="172.79" r="1.50" fill="#339cc4"/>
<circle cx="254.45" cy="172.66" r="1.50" fill="#339cc4"/>
<circle cx="253.79" cy="163.55" r="1.50" fill="#339cc4"/>
<circle cx="254.36" cy="157.21" r="1.50" fill="#339cc4"/>
<circle cx="254.05" cy="160.05" r="1.50" fill="#339cc4"/>
<circle cx="254.10" cy="155.70" r="1.50" fill="#339cc4"/>
<circle cx="254.37" cy="189.50" r="1.50" fill="#339cc4"/>
<circle cx="254.01" cy="186.18" r="1.50" fill="#339cc4"/>
<circle cx="254.11" cy="188.53" r="1.50" fill="#339cc4"/>
<path d="M260.43 147.80 L262.23 151.04 L258.63 151.04Z" fill="#2a7db6"/>
<path d="M260.37 196.10 L262.17 199.34 L258.57 199.34Z" fill="#2a7db6"/>
<path d="M260.97 177.05 L262.77 180.29 L259.17 180.29Z" fill="#2a7db6"/>
<path d="M261.00 182.85 L262.80 186.09 L259.20 186.09Z" fill="#2a7db6"/>
<path d="M260.84 170.25 L262.64 173.49 L259.04 173.49Z" fill="#2a7db6"/>
<path d="M260.53 179.90 L262.33 183.14 L258.73 183.14Z" fill="#2a7db6"/>
<path d="M260.49 158.90 L262.29 162.14 L258.69 162.14Z" fill="#2a7db6"/>
<path d="M260.53 157.78 L262.33 161.02 L258.73 161.02Z" fill="#2a7db6"/>
<path d="M260.67 154.15 L262.47 157.39 L258.87 157.39Z" fill="#2a7db6"/>
<path d="M260.43 153.26 L262.23 156.50 L258.63 156.50Z" fill="#2a7db6"/>
<path d="M260.66 148.65 L262.46 151.89 L258.86 151.89Z" fill="#2a7db6"/>
<path d="M260.51 184.87 L262.31 188.11 L258.71 188.11Z" fill="#2a7db6"/>
<path d="M261.07 184.11 L262.87 187.35 L259.27 187.35Z" fill="#2a7db6"/>
<path d="M261.08 192.76 L262.88 196.00 L259.28 196.00Z" fill="#2a7db6"/>
<path d="M260.74 186.50 L262.54 189.74 L258.94 189.74Z" fill="#2a7db6"/>
<path d="M267.11 158.70 L268.56 160.40 L267.11 162.10 L265.67 160.40Z" fill="#1b5c98"/>
<path d="M266.97 196.20 L268.42 197.90 L266.97 199.60 L265.53 197.90Z" fill="#1b5c98"/>
<path d="M267.22 174.18 L268.66 175.88 L267.22 177.58 L265.77 175.88Z" fill="#1b5c98"/>
<path d="M266.93 183.84 L268.38 185.54 L266.93 187.24 L265.49 185.54Z" fill="#1b5c98"/>
<path d="M266.92 175.05 L268.36 176.75 L266.92 178.45 L265.47 176.75Z" fill="#1b5c98"/>
<path d="M267.14 163.05 L268.59 164.75 L267.14 166.45 L265.70 164.75Z" fill="#1b5c98"/>
<path d="M267.09 158.71 L268.53 160.41 L267.09 162.11 L265.64 160.41Z" fill="#1b5c98"/>
<path d="M267.37 163.36 L268.81 165.06 L267.37 166.76 L265.92 165.06Z" fill="#1b5c98"/>
<path d="M267.32 164.49 L268.77 166.19 L267.32 167.89 L265.88 166.19Z" fill="#1b5c98"/>
<path d="M267.50 190.28 L268.95 191.98 L267.50 193.68 L266.06 191.98Z" fill="#1b5c98"/>
<path d="M267.43 186.69 L268.87 188.39 L267.43 190.09 L265.98 188.39Z" fill="#1b5c98"/>
<path d="M267.47 190.31 L268.92 192.01 L267.47 193.71 L266.03 192.01Z" fill="#1b5c98"/>
<path d="M267.60 184.36 L269.05 186.06 L267.60 187.76 L266.16 186.06Z" fill="#1b5c98"/>
<line x1="282.60" y1="164.60" x2="282.60" y2="174.30" stroke="#858585" stroke-width="1"/>
<line x1="282.60" y1="180.30" x2="282.60" y2="182.90" stroke="#858585" stroke-width="1"/>
<rect x="279.70" y="174.30" width="5.80" height="6.00" fill="#e4f3f0" stroke="#585858" stroke-width="0.9"/>
<line x1="279.70" y1="176.90" x2="285.50" y2="176.90" stroke="#585858" stroke-width="0.9"/>
<line x1="289.20" y1="168.00" x2="289.20" y2="174.90" stroke="#858585" stroke-width="1"/>
<line x1="289.20" y1="180.30" x2="289.20" y2="185.00" stroke="#858585" stroke-width="1"/>
<rect x="286.30" y="174.90" width="5.80" height="5.40" fill="#e0f0f7" stroke="#585858" stroke-width="0.9"/>
<line x1="286.30" y1="176.90" x2="292.10" y2="176.90" stroke="#585858" stroke-width="0.9"/>
<line x1="295.80" y1="166.80" x2="295.80" y2="173.90" stroke="#858585" stroke-width="1"/>
<line x1="295.80" y1="179.60" x2="295.80" y2="184.00" stroke="#858585" stroke-width="1"/>
<rect x="292.90" y="173.90" width="5.80" height="5.70" fill="#dfebf5" stroke="#585858" stroke-width="0.9"/>
<line x1="292.90" y1="176.40" x2="298.70" y2="176.40" stroke="#585858" stroke-width="0.9"/>
<line x1="302.40" y1="176.40" x2="302.40" y2="179.60" stroke="#858585" stroke-width="1"/>
<line x1="302.40" y1="185.00" x2="302.40" y2="187.60" stroke="#858585" stroke-width="1"/>
<rect x="299.50" y="179.60" width="5.80" height="5.40" fill="#e5edf6" stroke="#585858" stroke-width="0.9"/>
<line x1="299.50" y1="182.40" x2="305.30" y2="182.40" stroke="#585858" stroke-width="0.9"/>
<rect x="280.94" y="163.30" width="2.60" height="2.60" fill="#58b3a4"/>
<rect x="281.57" y="181.60" width="2.60" height="2.60" fill="#58b3a4"/>
<rect x="281.61" y="175.34" width="2.60" height="2.60" fill="#58b3a4"/>
<rect x="281.40" y="174.96" width="2.60" height="2.60" fill="#58b3a4"/>
<rect x="281.49" y="172.85" width="2.60" height="2.60" fill="#58b3a4"/>
<rect x="281.55" y="164.75" width="2.60" height="2.60" fill="#58b3a4"/>
<rect x="281.01" y="170.32" width="2.60" height="2.60" fill="#58b3a4"/>
<rect x="281.32" y="180.67" width="2.60" height="2.60" fill="#58b3a4"/>
<circle cx="289.51" cy="168.00" r="1.50" fill="#339cc4"/>
<circle cx="289.35" cy="185.00" r="1.50" fill="#339cc4"/>
<circle cx="289.35" cy="177.62" r="1.50" fill="#339cc4"/>
<circle cx="288.98" cy="179.41" r="1.50" fill="#339cc4"/>
<circle cx="288.82" cy="173.55" r="1.50" fill="#339cc4"/>
<circle cx="288.91" cy="173.70" r="1.50" fill="#339cc4"/>
<circle cx="289.09" cy="183.05" r="1.50" fill="#339cc4"/>
<path d="M295.94 165.00 L297.74 168.24 L294.14 168.24Z" fill="#2a7db6"/>
<path d="M295.79 182.20 L297.59 185.44 L293.99 185.44Z" fill="#2a7db6"/>
<path d="M295.40 172.70 L297.20 175.94 L293.60 175.94Z" fill="#2a7db6"/>
<path d="M296.04 176.86 L297.84 180.10 L294.24 180.10Z" fill="#2a7db6"/>
<path d="M296.00 168.97 L297.80 172.21 L294.20 172.21Z" fill="#2a7db6"/>
<path d="M295.80 169.46 L297.60 172.70 L294.00 172.70Z" fill="#2a7db6"/>
<path d="M295.83 180.56 L297.63 183.80 L294.03 183.80Z" fill="#2a7db6"/>
<path d="M302.06 174.70 L303.50 176.40 L302.06 178.10 L300.61 176.40Z" fill="#1b5c98"/>
<path d="M302.21 185.90 L303.66 187.60 L302.21 189.30 L300.77 187.60Z" fill="#1b5c98"/>
<path d="M302.58 181.46 L304.03 183.16 L302.58 184.86 L301.14 183.16Z" fill="#1b5c98"/>
<path d="M302.16 178.26 L303.61 179.96 L302.16 181.66 L300.72 179.96Z" fill="#1b5c98"/>
<path d="M302.59 177.06 L304.04 178.76 L302.59 180.46 L301.15 178.76Z" fill="#1b5c98"/>
<path d="M302.78 183.96 L304.23 185.66 L302.78 187.36 L301.34 185.66Z" fill="#1b5c98"/>
<line x1="317.70" y1="165.70" x2="317.70" y2="170.00" stroke="#858585" stroke-width="1"/>
<line x1="317.70" y1="173.60" x2="317.70" y2="178.60" stroke="#858585" stroke-width="1"/>
<rect x="314.80" y="170.00" width="5.80" height="3.60" fill="#e4f3f0" stroke="#585858" stroke-width="0.9"/>
<line x1="314.80" y1="171.50" x2="320.60" y2="171.50" stroke="#585858" stroke-width="0.9"/>
<line x1="324.30" y1="162.90" x2="324.30" y2="167.10" stroke="#858585" stroke-width="1"/>
<line x1="324.30" y1="172.90" x2="324.30" y2="180.00" stroke="#858585" stroke-width="1"/>
<rect x="321.40" y="167.10" width="5.80" height="5.80" fill="#e0f0f7" stroke="#585858" stroke-width="0.9"/>
<line x1="321.40" y1="169.30" x2="327.20" y2="169.30" stroke="#585858" stroke-width="0.9"/>
<line x1="330.90" y1="163.60" x2="330.90" y2="168.60" stroke="#858585" stroke-width="1"/>
<line x1="330.90" y1="172.60" x2="330.90" y2="176.40" stroke="#858585" stroke-width="1"/>
<rect x="328.00" y="168.60" width="5.80" height="4.00" fill="#dfebf5" stroke="#585858" stroke-width="0.9"/>
<line x1="328.00" y1="170.50" x2="333.80" y2="170.50" stroke="#585858" stroke-width="0.9"/>
<line x1="337.50" y1="163.60" x2="337.50" y2="168.60" stroke="#858585" stroke-width="1"/>
<line x1="337.50" y1="182.10" x2="337.50" y2="187.10" stroke="#858585" stroke-width="1"/>
<rect x="334.60" y="168.60" width="5.80" height="13.50" fill="#e5edf6" stroke="#585858" stroke-width="0.9"/>
<line x1="334.60" y1="174.30" x2="340.40" y2="174.30" stroke="#585858" stroke-width="0.9"/>
<rect x="316.61" y="164.40" width="2.60" height="2.60" fill="#58b3a4"/>
<rect x="316.49" y="177.30" width="2.60" height="2.60" fill="#58b3a4"/>
<rect x="316.51" y="170.48" width="2.60" height="2.60" fill="#58b3a4"/>
<rect x="316.06" y="170.08" width="2.60" height="2.60" fill="#58b3a4"/>
<rect x="316.12" y="166.46" width="2.60" height="2.60" fill="#58b3a4"/>
<rect x="316.20" y="175.72" width="2.60" height="2.60" fill="#58b3a4"/>
<circle cx="324.12" cy="162.90" r="1.50" fill="#339cc4"/>
<circle cx="324.44" cy="180.00" r="1.50" fill="#339cc4"/>
<circle cx="324.45" cy="171.41" r="1.50" fill="#339cc4"/>
<circle cx="324.44" cy="168.87" r="1.50" fill="#339cc4"/>
<circle cx="324.13" cy="165.28" r="1.50" fill="#339cc4"/>
<circle cx="324.31" cy="172.99" r="1.50" fill="#339cc4"/>
<circle cx="324.27" cy="173.33" r="1.50" fill="#339cc4"/>
<path d="M331.28 161.80 L333.08 165.04 L329.48 165.04Z" fill="#2a7db6"/>
<path d="M331.25 174.60 L333.05 177.84 L329.45 177.84Z" fill="#2a7db6"/>
<path d="M330.51 168.67 L332.31 171.91 L328.71 171.91Z" fill="#2a7db6"/>
<path d="M330.87 167.27 L332.67 170.51 L329.07 170.51Z" fill="#2a7db6"/>
<path d="M331.16 166.27 L332.96 169.51 L329.36 169.51Z" fill="#2a7db6"/>
<path d="M331.27 171.56 L333.07 174.80 L329.47 174.80Z" fill="#2a7db6"/>
<path d="M337.21 161.90 L338.66 163.60 L337.21 165.30 L335.77 163.60Z" fill="#1b5c98"/>
<path d="M337.52 185.40 L338.96 187.10 L337.52 188.80 L336.07 187.10Z" fill="#1b5c98"/>
<path d="M337.86 172.97 L339.31 174.67 L337.86 176.37 L336.42 174.67Z" fill="#1b5c98"/>
<path d="M337.21 170.53 L338.65 172.23 L337.21 173.93 L335.76 172.23Z" fill="#1b5c98"/>
<path d="M337.76 169.73 L339.20 171.43 L337.76 173.13 L336.31 171.43Z" fill="#1b5c98"/>
<path d="M337.51 179.67 L338.95 181.37 L337.51 183.07 L336.06 181.37Z" fill="#1b5c98"/>
<path d="M337.81 162.95 L339.25 164.65 L337.81 166.35 L336.36 164.65Z" fill="#1b5c98"/>
<path d="M337.66 183.31 L339.11 185.01 L337.66 186.71 L336.22 185.01Z" fill="#1b5c98"/>
<path d="M278.6 160.8 V157.4 H300.4 V160.8" fill="none" stroke="#222" stroke-width="1.1"/>
<rect x="286" y="153" width="7" height="8" fill="#fff"/>
<text x="289.6" y="160.2" font-family='"Liberation Sans", sans-serif' font-size="10.6" text-anchor="middle" fill="#000" stroke="#000" stroke-width="0.2" >a</text>
<text x="303.3" y="170.4" font-family='"Liberation Sans", sans-serif' font-size="10.6" text-anchor="middle" fill="#000" stroke="#000" stroke-width="0.2" >b</text>
<rect x="244.6" y="27.4" width="98.3" height="103.6" fill="#fff" stroke="#000" stroke-width="1.4"/>
<line x1="244.6" y1="115.60" x2="248" y2="115.60" stroke="#222" stroke-width="1"/>
<text x="239.6" y="119.6" font-family='"Liberation Sans", sans-serif' font-size="11.3" text-anchor="end" fill="#000" stroke="#000" stroke-width="0.2" >30</text>
<line x1="244.6" y1="92.30" x2="248" y2="92.30" stroke="#222" stroke-width="1"/>
<text x="239.6" y="96.3" font-family='"Liberation Sans", sans-serif' font-size="11.3" text-anchor="end" fill="#000" stroke="#000" stroke-width="0.2" >35</text>
<line x1="244.6" y1="69.00" x2="248" y2="69.00" stroke="#222" stroke-width="1"/>
<text x="239.6" y="73.0" font-family='"Liberation Sans", sans-serif' font-size="11.3" text-anchor="end" fill="#000" stroke="#000" stroke-width="0.2" >40</text>
<line x1="244.6" y1="45.70" x2="248" y2="45.70" stroke="#222" stroke-width="1"/>
<text x="239.6" y="49.69999999999999" font-family='"Liberation Sans", sans-serif' font-size="11.3" text-anchor="end" fill="#000" stroke="#000" stroke-width="0.2" >45</text>
<line x1="292.3" y1="128" x2="292.3" y2="131" stroke="#222" stroke-width="1"/>
<line x1="282.60" y1="41.10" x2="282.60" y2="64.90" stroke="#858585" stroke-width="1"/>
<line x1="282.60" y1="93.60" x2="282.60" y2="98.10" stroke="#858585" stroke-width="1"/>
<rect x="279.40" y="64.90" width="6.40" height="28.70" fill="#e4f3f0" stroke="#585858" stroke-width="0.9"/>
<line x1="279.40" y1="82.00" x2="285.80" y2="82.00" stroke="#585858" stroke-width="0.9"/>
<line x1="289.80" y1="33.20" x2="289.80" y2="61.20" stroke="#858585" stroke-width="1"/>
<line x1="289.80" y1="90.30" x2="289.80" y2="100.90" stroke="#858585" stroke-width="1"/>
<rect x="286.60" y="61.20" width="6.40" height="29.10" fill="#e0f0f7" stroke="#585858" stroke-width="0.9"/>
<line x1="286.60" y1="81.30" x2="293.00" y2="81.30" stroke="#585858" stroke-width="0.9"/>
<line x1="297.00" y1="33.20" x2="297.00" y2="54.30" stroke="#858585" stroke-width="1"/>
<line x1="297.00" y1="94.80" x2="297.00" y2="125.50" stroke="#858585" stroke-width="1"/>
<rect x="293.80" y="54.30" width="6.40" height="40.50" fill="#dfebf5" stroke="#585858" stroke-width="0.9"/>
<line x1="293.80" y1="83.90" x2="300.20" y2="83.90" stroke="#585858" stroke-width="0.9"/>
<line x1="304.20" y1="68.90" x2="304.20" y2="86.80" stroke="#858585" stroke-width="1"/>
<line x1="304.20" y1="114.20" x2="304.20" y2="126.50" stroke="#858585" stroke-width="1"/>
<rect x="301.00" y="86.80" width="6.40" height="27.40" fill="#e5edf6" stroke="#585858" stroke-width="0.9"/>
<line x1="301.00" y1="101.80" x2="307.40" y2="101.80" stroke="#585858" stroke-width="0.9"/>
<rect x="281.57" y="39.80" width="2.60" height="2.60" fill="#58b3a4"/>
<rect x="280.90" y="96.80" width="2.60" height="2.60" fill="#58b3a4"/>
<rect x="281.50" y="70.24" width="2.60" height="2.60" fill="#58b3a4"/>
<rect x="281.57" y="89.36" width="2.60" height="2.60" fill="#58b3a4"/>
<rect x="281.00" y="77.55" width="2.60" height="2.60" fill="#58b3a4"/>
<rect x="281.64" y="64.31" width="2.60" height="2.60" fill="#58b3a4"/>
<rect x="281.47" y="63.70" width="2.60" height="2.60" fill="#58b3a4"/>
<rect x="281.62" y="77.71" width="2.60" height="2.60" fill="#58b3a4"/>
<rect x="281.13" y="76.54" width="2.60" height="2.60" fill="#58b3a4"/>
<rect x="281.20" y="46.99" width="2.60" height="2.60" fill="#58b3a4"/>
<rect x="281.21" y="43.15" width="2.60" height="2.60" fill="#58b3a4"/>
<rect x="281.70" y="47.99" width="2.60" height="2.60" fill="#58b3a4"/>
<rect x="281.37" y="47.32" width="2.60" height="2.60" fill="#58b3a4"/>
<circle cx="290.11" cy="33.20" r="1.50" fill="#339cc4"/>
<circle cx="290.05" cy="100.90" r="1.50" fill="#339cc4"/>
<circle cx="289.90" cy="71.70" r="1.50" fill="#339cc4"/>
<circle cx="290.13" cy="73.66" r="1.50" fill="#339cc4"/>
<circle cx="290.15" cy="69.21" r="1.50" fill="#339cc4"/>
<circle cx="289.84" cy="62.60" r="1.50" fill="#339cc4"/>
<circle cx="289.98" cy="64.16" r="1.50" fill="#339cc4"/>
<circle cx="289.44" cy="85.49" r="1.50" fill="#339cc4"/>
<circle cx="289.99" cy="69.51" r="1.50" fill="#339cc4"/>
<circle cx="289.76" cy="59.40" r="1.50" fill="#339cc4"/>
<circle cx="290.00" cy="40.18" r="1.50" fill="#339cc4"/>
<circle cx="289.92" cy="40.64" r="1.50" fill="#339cc4"/>
<circle cx="289.63" cy="47.51" r="1.50" fill="#339cc4"/>
<circle cx="289.44" cy="38.52" r="1.50" fill="#339cc4"/>
<circle cx="290.14" cy="94.26" r="1.50" fill="#339cc4"/>
<circle cx="289.50" cy="100.44" r="1.50" fill="#339cc4"/>
<path d="M296.75 31.40 L298.55 34.64 L294.95 34.64Z" fill="#2a7db6"/>
<path d="M296.67 123.70 L298.47 126.94 L294.87 126.94Z" fill="#2a7db6"/>
<path d="M296.87 71.62 L298.67 74.86 L295.07 74.86Z" fill="#2a7db6"/>
<path d="M296.67 66.42 L298.47 69.66 L294.87 69.66Z" fill="#2a7db6"/>
<path d="M296.79 64.56 L298.59 67.80 L294.99 67.80Z" fill="#2a7db6"/>
<path d="M296.81 82.43 L298.61 85.67 L295.01 85.67Z" fill="#2a7db6"/>
<path d="M297.06 92.04 L298.86 95.28 L295.26 95.28Z" fill="#2a7db6"/>
<path d="M297.31 63.04 L299.11 66.28 L295.51 66.28Z" fill="#2a7db6"/>
<path d="M297.20 79.07 L299.00 82.31 L295.40 82.31Z" fill="#2a7db6"/>
<path d="M296.93 64.68 L298.73 67.92 L295.13 67.92Z" fill="#2a7db6"/>
<path d="M296.93 75.07 L298.73 78.31 L295.13 78.31Z" fill="#2a7db6"/>
<path d="M297.02 68.47 L298.82 71.71 L295.22 71.71Z" fill="#2a7db6"/>
<path d="M296.90 34.93 L298.70 38.17 L295.10 38.17Z" fill="#2a7db6"/>
<path d="M296.87 34.81 L298.67 38.05 L295.07 38.05Z" fill="#2a7db6"/>
<path d="M296.65 35.79 L298.45 39.03 L294.85 39.03Z" fill="#2a7db6"/>
<path d="M296.82 50.52 L298.62 53.76 L295.02 53.76Z" fill="#2a7db6"/>
<path d="M297.37 108.26 L299.17 111.50 L295.57 111.50Z" fill="#2a7db6"/>
<path d="M296.70 99.75 L298.50 102.99 L294.90 102.99Z" fill="#2a7db6"/>
<path d="M297.00 120.82 L298.80 124.06 L295.20 124.06Z" fill="#2a7db6"/>
<path d="M297.10 123.59 L298.90 126.83 L295.30 126.83Z" fill="#2a7db6"/>
<path d="M297.29 106.81 L299.09 110.05 L295.49 110.05Z" fill="#2a7db6"/>
<path d="M296.77 97.29 L298.57 100.53 L294.97 100.53Z" fill="#2a7db6"/>
<path d="M304.18 67.20 L305.62 68.90 L304.18 70.60 L302.73 68.90Z" fill="#1b5c98"/>
<path d="M304.27 124.80 L305.71 126.50 L304.27 128.20 L302.82 126.50Z" fill="#1b5c98"/>
<path d="M303.80 92.53 L305.25 94.23 L303.80 95.93 L302.36 94.23Z" fill="#1b5c98"/>
<path d="M304.11 91.91 L305.56 93.61 L304.11 95.31 L302.67 93.61Z" fill="#1b5c98"/>
<path d="M304.54 96.05 L305.99 97.75 L304.54 99.45 L303.10 97.75Z" fill="#1b5c98"/>
<path d="M304.46 97.32 L305.91 99.02 L304.46 100.72 L303.02 99.02Z" fill="#1b5c98"/>
<path d="M304.48 111.24 L305.93 112.94 L304.48 114.64 L303.04 112.94Z" fill="#1b5c98"/>
<path d="M304.58 108.35 L306.02 110.05 L304.58 111.75 L303.13 110.05Z" fill="#1b5c98"/>
<path d="M304.00 82.82 L305.44 84.52 L304.00 86.22 L302.55 84.52Z" fill="#1b5c98"/>
<path d="M303.89 67.59 L305.33 69.29 L303.89 70.99 L302.44 69.29Z" fill="#1b5c98"/>
<path d="M303.92 67.78 L305.37 69.48 L303.92 71.18 L302.48 69.48Z" fill="#1b5c98"/>
<path d="M304.22 121.23 L305.66 122.93 L304.22 124.63 L302.77 122.93Z" fill="#1b5c98"/>
<path d="M304.35 123.52 L305.79 125.22 L304.35 126.92 L302.90 125.22Z" fill="#1b5c98"/>
<path d="M304.30 30.30 L305.75 32.00 L304.30 33.70 L302.86 32.00Z" fill="#1b5c98"/>
<rect x="175.90" y="147.70" width="2.60" height="2.60" fill="#58b3a4"/>
<text x="291.6" y="143.3" font-family='"Liberation Sans", sans-serif' font-size="11.5" text-anchor="middle" fill="#000" stroke="#000" stroke-width="0.2" >potato</text>
<rect x="60.9" y="23" width="287.1" height="189.6" fill="none" stroke="#000" stroke-width="1.25"/>
<text transform="translate(32.6,115.5) rotate(-90)" font-family='"Liberation Sans", sans-serif' font-size="13.75" text-anchor="middle" fill="#1a1a1a">Absolute yield (t ha<tspan font-size="8" dy="-6.5" dx="0.6">-1</tspan><tspan dy="6.5" dx="0.3">)</tspan></text>
<text x="81.90" y="226.5" font-family='"Liberation Sans", sans-serif' font-size="11.5" text-anchor="middle" fill="#000" stroke="#000" stroke-width="0.2" >faba</text>
<text x="81.90" y="242.4" font-family='"Liberation Sans", sans-serif' font-size="11.5" text-anchor="middle" fill="#000" stroke="#000" stroke-width="0.2" >bean</text>
<text x="117.00" y="226.3" font-family='"Liberation Sans", sans-serif' font-size="11.5" text-anchor="middle" fill="#000" stroke="#000" stroke-width="0.2" >faba</text>
<text x="117.00" y="240.1" font-family='"Liberation Sans", sans-serif' font-size="11.5" text-anchor="middle" fill="#000" stroke="#000" stroke-width="0.2" >bean</text>
<text x="117.00" y="254.7" font-family='"Liberation Sans", sans-serif' font-size="11.5" text-anchor="middle" fill="#000" stroke="#000" stroke-width="0.2" >+ oats</text>
<text x="152.10" y="226.6" font-family='"Liberation Sans", sans-serif' font-size="11.5" text-anchor="middle" fill="#000" stroke="#000" stroke-width="0.2" >grass/</text>
<text x="152.10" y="242.4" font-family='"Liberation Sans", sans-serif' font-size="11.5" text-anchor="middle" fill="#000" stroke="#000" stroke-width="0.2" >clover</text>
<text x="187.20" y="226.6" font-family='"Liberation Sans", sans-serif' font-size="11.5" text-anchor="middle" fill="#000" stroke="#000" stroke-width="0.2" >maize</text>
<text x="222.30" y="226.6" font-family='"Liberation Sans", sans-serif' font-size="11.5" text-anchor="middle" fill="#000" stroke="#000" stroke-width="0.2" >oats</text>
<text x="257.40" y="226.6" font-family='"Liberation Sans", sans-serif' font-size="11.5" text-anchor="middle" fill="#000" stroke="#000" stroke-width="0.2" >spring</text>
<text x="257.40" y="242.4" font-family='"Liberation Sans", sans-serif' font-size="11.5" text-anchor="middle" fill="#000" stroke="#000" stroke-width="0.2" >wheat</text>
<text x="292.50" y="226.4" font-family='"Liberation Sans", sans-serif' font-size="11.5" text-anchor="middle" fill="#000" stroke="#000" stroke-width="0.2" >winter</text>
<text x="292.50" y="242.0" font-family='"Liberation Sans", sans-serif' font-size="11.5" text-anchor="middle" fill="#000" stroke="#000" stroke-width="0.2" >rye</text>
<text x="327.60" y="226.4" font-family='"Liberation Sans", sans-serif' font-size="11.5" text-anchor="middle" fill="#000" stroke="#000" stroke-width="0.2" >winter</text>
<text x="327.60" y="240.6" font-family='"Liberation Sans", sans-serif' font-size="11.5" text-anchor="middle" fill="#000" stroke="#000" stroke-width="0.2" >wheat</text>
<text x="1.3" y="273.3" font-family='"Liberation Sans", sans-serif' font-size="12.5" text-anchor="start" fill="#000" stroke="#000" stroke-width="0.2" >(b)</text>
<line x1="61" y1="448.65" x2="66.5" y2="448.65" stroke="#222" stroke-width="1"/>
<line x1="61" y1="434.30" x2="66.5" y2="434.30" stroke="#222" stroke-width="1"/>
<line x1="61" y1="419.95" x2="66.5" y2="419.95" stroke="#222" stroke-width="1"/>
<line x1="61" y1="405.60" x2="66.5" y2="405.60" stroke="#222" stroke-width="1"/>
<line x1="61" y1="391.25" x2="66.5" y2="391.25" stroke="#222" stroke-width="1"/>
<line x1="61" y1="376.90" x2="66.5" y2="376.90" stroke="#222" stroke-width="1"/>
<line x1="61" y1="362.55" x2="66.5" y2="362.55" stroke="#222" stroke-width="1"/>
<line x1="61" y1="348.20" x2="66.5" y2="348.20" stroke="#222" stroke-width="1"/>
<line x1="61" y1="333.85" x2="66.5" y2="333.85" stroke="#222" stroke-width="1"/>
<line x1="61" y1="319.50" x2="66.5" y2="319.50" stroke="#222" stroke-width="1"/>
<line x1="61" y1="305.15" x2="66.5" y2="305.15" stroke="#222" stroke-width="1"/>
<line x1="61" y1="290.80" x2="66.5" y2="290.80" stroke="#222" stroke-width="1"/>
<line x1="61" y1="276.45" x2="66.5" y2="276.45" stroke="#222" stroke-width="1"/>
<text x="55.2" y="467.0" font-family='"Liberation Sans", sans-serif' font-size="11.3" text-anchor="end" fill="#000" stroke="#000" stroke-width="0.2" >0</text>
<text x="55.2" y="438.3" font-family='"Liberation Sans", sans-serif' font-size="11.3" text-anchor="end" fill="#000" stroke="#000" stroke-width="0.2" >50</text>
<text x="55.2" y="409.6" font-family='"Liberation Sans", sans-serif' font-size="11.3" text-anchor="end" fill="#000" stroke="#000" stroke-width="0.2" >100</text>
<text x="55.2" y="380.9" font-family='"Liberation Sans", sans-serif' font-size="11.3" text-anchor="end" fill="#000" stroke="#000" stroke-width="0.2" >150</text>
<text x="55.2" y="352.2" font-family='"Liberation Sans", sans-serif' font-size="11.3" text-anchor="end" fill="#000" stroke="#000" stroke-width="0.2" >200</text>
<text x="55.2" y="323.5" font-family='"Liberation Sans", sans-serif' font-size="11.3" text-anchor="end" fill="#000" stroke="#000" stroke-width="0.2" >250</text>
<text x="55.2" y="294.8" font-family='"Liberation Sans", sans-serif' font-size="11.3" text-anchor="end" fill="#000" stroke="#000" stroke-width="0.2" >300</text>
<line x1="62" y1="405" x2="347" y2="405" stroke="#a0a0a0" stroke-width="1" stroke-dasharray="5 6" stroke-dashoffset="-1"/>
<line x1="101.8" y1="367" x2="101.8" y2="387.4" stroke="#555" stroke-width="1.2"/>
<line x1="101.8" y1="402.3" x2="101.8" y2="421.4" stroke="#555" stroke-width="1.2"/>
<rect x="75.80" y="387.4" width="52" height="14.90" fill="#8dd3c8" stroke="#2f5a58" stroke-width="1"/>
<line x1="75.80" y1="395.8" x2="127.80" y2="395.8" stroke="#1c4846" stroke-width="2.2"/>
<circle cx="101.8" cy="277" r="1.9" fill="#6e6e6e"/>
<circle cx="101.8" cy="298.8" r="1.9" fill="#6e6e6e"/>
<circle cx="101.8" cy="342.5" r="1.9" fill="#6e6e6e"/>
<circle cx="101.8" cy="349.5" r="1.9" fill="#6e6e6e"/>
<circle cx="101.8" cy="353.6" r="1.9" fill="#6e6e6e"/>
<circle cx="101.8" cy="423.5" r="1.9" fill="#6e6e6e"/>
<circle cx="101.8" cy="427" r="1.9" fill="#6e6e6e"/>
<circle cx="101.8" cy="430.5" r="1.9" fill="#6e6e6e"/>
<line x1="101.8" y1="457.5" x2="101.8" y2="462.7" stroke="#222" stroke-width="1"/>
<line x1="170.4" y1="374.3" x2="170.4" y2="390.7" stroke="#555" stroke-width="1.2"/>
<line x1="170.4" y1="404.5" x2="170.4" y2="423.4" stroke="#555" stroke-width="1.2"/>
<rect x="144.40" y="390.7" width="52" height="13.80" fill="#5db4d8" stroke="#203f52" stroke-width="1"/>
<line x1="144.40" y1="397.8" x2="196.40" y2="397.8" stroke="#17384a" stroke-width="2.2"/>
<circle cx="170.4" cy="354.9" r="1.9" fill="#6e6e6e"/>
<circle cx="170.4" cy="360.6" r="1.9" fill="#6e6e6e"/>
<circle cx="170.4" cy="364" r="1.9" fill="#6e6e6e"/>
<circle cx="170.4" cy="367" r="1.9" fill="#6e6e6e"/>
<circle cx="170.4" cy="432.1" r="1.9" fill="#6e6e6e"/>
<circle cx="170.4" cy="434.9" r="1.9" fill="#6e6e6e"/>
<line x1="170.4" y1="457.5" x2="170.4" y2="462.7" stroke="#222" stroke-width="1"/>
<line x1="238.9" y1="366.6" x2="238.9" y2="388.3" stroke="#555" stroke-width="1.2"/>
<line x1="238.9" y1="403.6" x2="238.9" y2="423.7" stroke="#555" stroke-width="1.2"/>
<rect x="212.90" y="388.3" width="52" height="15.30" fill="#4a9ccf" stroke="#1f3b52" stroke-width="1"/>
<line x1="212.90" y1="396.3" x2="264.90" y2="396.3" stroke="#14324a" stroke-width="2.2"/>
<circle cx="238.9" cy="341.4" r="1.9" fill="#6e6e6e"/>
<circle cx="238.9" cy="353.3" r="1.9" fill="#6e6e6e"/>
<circle cx="238.9" cy="359.7" r="1.9" fill="#6e6e6e"/>
<circle cx="238.9" cy="363.1" r="1.9" fill="#6e6e6e"/>
<circle cx="238.9" cy="365.4" r="1.9" fill="#6e6e6e"/>
<circle cx="238.9" cy="430.6" r="1.9" fill="#6e6e6e"/>
<circle cx="238.9" cy="436.3" r="1.9" fill="#6e6e6e"/>
<line x1="238.9" y1="457.5" x2="238.9" y2="462.7" stroke="#222" stroke-width="1"/>
<line x1="307.2" y1="383" x2="307.2" y2="399.3" stroke="#555" stroke-width="1.2"/>
<line x1="307.2" y1="411.4" x2="307.2" y2="428.8" stroke="#555" stroke-width="1.2"/>
<rect x="281.20" y="399.3" width="52" height="12.10" fill="#2f7ebd" stroke="#173a55" stroke-width="1"/>
<line x1="281.20" y1="405.6" x2="333.20" y2="405.6" stroke="#0e2e48" stroke-width="2.2"/>
<circle cx="307.2" cy="369.5" r="1.9" fill="#6e6e6e"/>
<circle cx="307.2" cy="375.3" r="1.9" fill="#6e6e6e"/>
<circle cx="307.2" cy="430.5" r="1.9" fill="#6e6e6e"/>
<circle cx="307.2" cy="438.8" r="1.9" fill="#6e6e6e"/>
<circle cx="307.2" cy="449.1" r="1.9" fill="#6e6e6e"/>
<line x1="307.2" y1="457.5" x2="307.2" y2="462.7" stroke="#222" stroke-width="1"/>
<text x="121" y="383.2" font-family='"Liberation Serif", serif' font-size="12.5" text-anchor="middle" fill="#000" stroke="#000" stroke-width="0.2" >a</text>
<text x="189.1" y="387.8" font-family='"Liberation Serif", serif' font-size="12.5" text-anchor="middle" fill="#000" stroke="#000" stroke-width="0.2" >a</text>
<text x="259.9" y="384.6" font-family='"Liberation Serif", serif' font-size="12.5" text-anchor="middle" fill="#000" stroke="#000" stroke-width="0.2" >a</text>
<text x="328" y="396.2" font-family='"Liberation Serif", serif' font-size="12" text-anchor="middle" fill="#000" stroke="#000" stroke-width="0.2" >b</text>
<text x="343.1" y="282.3" font-family='"Liberation Sans", sans-serif' font-size="11.1" text-anchor="end" fill="#000" stroke="#000" stroke-width="0.2" >all crops and years</text>
<rect x="60.9" y="269.7" width="287.1" height="193" fill="none" stroke="#000" stroke-width="1.25"/>
<text transform="translate(10.4,370.8) rotate(-90)" font-family='"Liberation Sans", sans-serif' font-size="13.95" text-anchor="middle" fill="#1a1a1a">Normalized yield</text>
<text transform="translate(28.3,371.0) rotate(-90)" font-family='"Liberation Sans", sans-serif' font-size="14.05" text-anchor="middle" fill="#1a1a1a">(% of control average)</text>
<text x="101.8" y="479" font-family='"Liberation Sans", sans-serif' font-size="11.5" text-anchor="middle" fill="#000" stroke="#000" stroke-width="0.2" >FYM +</text>
<text x="101.8" y="492.4" font-family='"Liberation Sans", sans-serif' font-size="11.5" text-anchor="middle" fill="#000" stroke="#000" stroke-width="0.2" >all preps</text>
<text x="170.4" y="479" font-family='"Liberation Sans", sans-serif' font-size="11.5" text-anchor="middle" fill="#000" stroke="#000" stroke-width="0.2" >FYM +</text>
<text x="170.4" y="492.4" font-family='"Liberation Sans", sans-serif' font-size="11.5" text-anchor="middle" fill="#000" stroke="#000" stroke-width="0.2" >Achillea</text>
<text x="238.9" y="479" font-family='"Liberation Sans", sans-serif' font-size="11.5" text-anchor="middle" fill="#000" stroke="#000" stroke-width="0.2" >FYM</text>
<text x="307.2" y="479" font-family='"Liberation Sans", sans-serif' font-size="11.5" text-anchor="middle" fill="#000" stroke="#000" stroke-width="0.2" >unfertilized</text>
<text x="307.2" y="492.4" font-family='"Liberation Sans", sans-serif' font-size="11.5" text-anchor="middle" fill="#000" stroke="#000" stroke-width="0.2" >control</text>
<line x1="7" y1="502.6" x2="348.3" y2="502.6" stroke="#222" stroke-width="1.5"/>
<text x="2" y="520" font-family='"Liberation Sans", sans-serif' font-size="11.2" text-anchor="start" fill="#000" stroke="#000" stroke-width="0.2" >- FYM: composted farmyard manure added to the crops either with all</text>
<text x="2" y="536" font-family='"Liberation Sans", sans-serif' font-size="11.2" text-anchor="start" fill="#000" stroke="#000" stroke-width="0.2" >six biodynamic compost preparations (nrs. 502-507; FYM + all preps),</text>
<text x="2" y="552" font-family='"Liberation Sans", sans-serif' font-size="11.2" text-anchor="start" fill="#000" stroke="#000" stroke-width="0.2" >only with the Achillea preparation (nr. 502; FYM + Achillea), or without</text>
<text x="2" y="568" font-family='"Liberation Sans", sans-serif' font-size="11.2" text-anchor="start" fill="#000" stroke="#000" stroke-width="0.2" >any (FYM)</text>
<text x="2" y="584" font-family='"Liberation Sans", sans-serif' font-size="11.2" text-anchor="start" fill="#000" stroke="#000" stroke-width="0.2" >- a, ab, b: statistically significant groups as obtained from a post-hoc</text>
<text x="2" y="599" font-family='"Liberation Sans", sans-serif' font-size="11.2" text-anchor="start" fill="#000" stroke="#000" stroke-width="0.2" >Tukey&#39;s test</text>
</svg></div></body></html>
